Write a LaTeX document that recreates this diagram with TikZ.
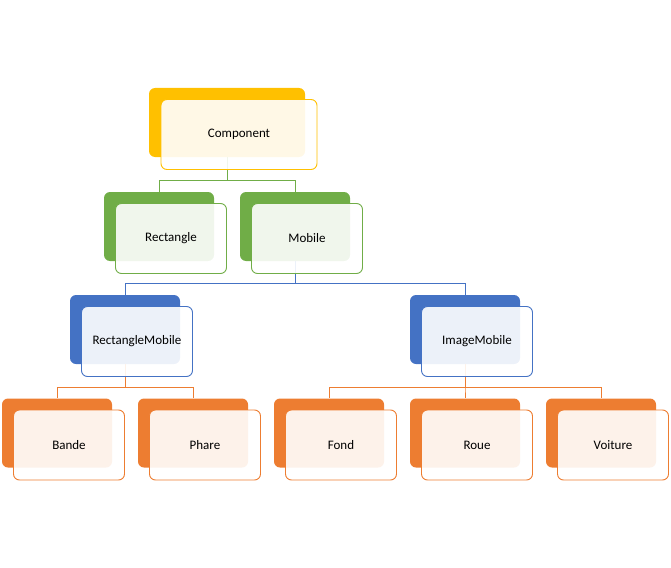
\documentclass[tikz,border=0pt]{standalone}
\usepackage{fontspec}
\setmainfont{Carlito}
\usetikzlibrary{positioning}

\definecolor{gold}{HTML}{FFC000}
\definecolor{leaf}{HTML}{70AD47}
\definecolor{sea}{HTML}{4472C4}
\definecolor{rust}{HTML}{ED7D31}

\tikzset{
  back/.style={rectangle, rounded corners=6pt, minimum width=110pt,
    minimum height=69pt, inner sep=0pt, fill=#1},
  front/.style={rectangle, rounded corners=6pt, minimum width=111pt,
    minimum height=70pt, inner sep=0pt, draw=#1, line width=0.9pt,
    fill=white, fill opacity=0.9, text opacity=1,
    font=\fontsize{13}{15}\selectfont},
  link/.style={draw=#1, line width=1pt}
}

\begin{document}
\begin{tikzpicture}[on grid, node distance=103.5pt and 136pt]
  \useasboundingbox (0,0) rectangle (671pt,-567pt);
  % back boxes
  \node[back=gold, minimum width=156pt] (bComp) at (227pt,-122.5pt) {};
  \node[back=leaf] [below left=104pt and 68pt of bComp] (bRect) {};
  \node[back=leaf] [right=of bRect] (bMob) {};
  \node[back=sea] [below left=103pt and 170pt of bMob] (bRM) {};
  \node[back=sea] [below right=103pt and 170pt of bMob] (bIM) {};
  \node[back=rust] [below left=103.5pt and 68pt of bRM] (bBande) {};
  \node[back=rust] [right=of bBande] (bPhare) {};
  \node[back=rust] [below=of bIM] (bRoue) {};
  \node[back=rust] [left=of bRoue] (bFond) {};
  \node[back=rust] [right=of bRoue] (bVoit) {};
  % links
  \foreach \kid in {bRect,bMob}
    \draw[link=leaf] (bComp.south) -- ++(0,-23pt) -| (\kid.north);
  \foreach \kid in {bRM,bIM}
    \draw[link=sea] (bMob.south) -- ++(0,-22pt) -| (\kid.north);
  \foreach \kid in {bBande,bPhare}
    \draw[link=rust] (bRM.south) -- ++(0,-23pt) -| (\kid.north);
  \foreach \kid in {bFond,bRoue,bVoit}
    \draw[link=rust] (bIM.south) -- ++(0,-23pt) -| (\kid.north);
  % front boxes
  \node[front=gold, minimum width=156pt] [below right=12pt and 12pt of bComp] (Comp) {Component};
  \node[front=leaf] [below right=12pt and 12pt of bRect] (Rect) {Rectangle};
  \node[front=leaf] [below right=12pt and 12pt of bMob] (Mob) {Mobile};
  \node[front=sea] [below right=12pt and 12pt of bRM] (RM) {RectangleMobile};
  \node[front=sea] [below right=12pt and 12pt of bIM] (IM) {ImageMobile};
  \node[front=rust] [below right=12pt and 12pt of bBande] (Bande) {Bande};
  \node[front=rust] [below right=12pt and 12pt of bPhare] (Phare) {Phare};
  \node[front=rust] [below right=12pt and 12pt of bFond] (Fond) {Fond};
  \node[front=rust] [below right=12pt and 12pt of bRoue] (Roue) {Roue};
  \node[front=rust] [below right=12pt and 12pt of bVoit] (Voit) {Voiture};
\end{tikzpicture}
\end{document}
